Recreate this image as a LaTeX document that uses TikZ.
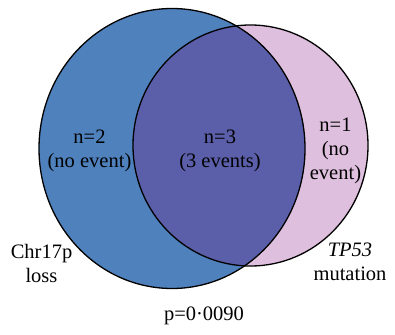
\documentclass[tikz,border=0pt]{standalone}
\usepackage{fontspec}
\setmainfont{Liberation Serif}
\usepackage{xcolor}
\usepackage{tikz}
\usetikzlibrary{positioning}
\definecolor{lossblue}{RGB}{79,129,189}
\definecolor{mutpink}{RGB}{223,191,222}
\definecolor{bothviolet}{RGB}{91,95,170}

\begin{document}
\begin{tikzpicture}[x=1pt, y=-1pt,
      lbl/.style={align=center, inner sep=0pt, font=\fontsize{20.5}{24}\selectfont},
      ring/.style={draw=black, line width=1.3pt}
    ]
      \useasboundingbox (0,0) rectangle (395,334);
      % the two sets
      \coordinate (cl) at (172,148.5);
      \coordinate (cm) at (250.5,145.5);
      \fill[lossblue] (cl) ellipse [x radius=133, y radius=140];
      \fill[mutpink] (cm) ellipse [x radius=117.5, y radius=120.5];
      \begin{scope}
        \clip (cl) ellipse [x radius=133, y radius=140];
        \fill[bothviolet] (cm) ellipse [x radius=117.5, y radius=120.5];
      \end{scope}
      \draw[ring] (cl) ellipse [x radius=133, y radius=140];
      \draw[ring] (cm) ellipse [x radius=117.5, y radius=120.5];
      % counts
      \node[lbl] (only17p) at (89.5,151) {n=2\\(no event)};
      \node[lbl] (both) at (220,151) {n=3\\(3 events)};
      \node[lbl] (onlytp) at (335.5,151) {n=1\\(no\\event)};
      % set names
      \node[lbl] (chr) at (41.5,263) {Chr17p\\loss};
      \node[lbl] (tp) at (350,262) {\textit{TP53}\\mutation};
      \node[lbl] (pval) at (204,316) {p=0·0090};
    \end{tikzpicture}
\end{document}
